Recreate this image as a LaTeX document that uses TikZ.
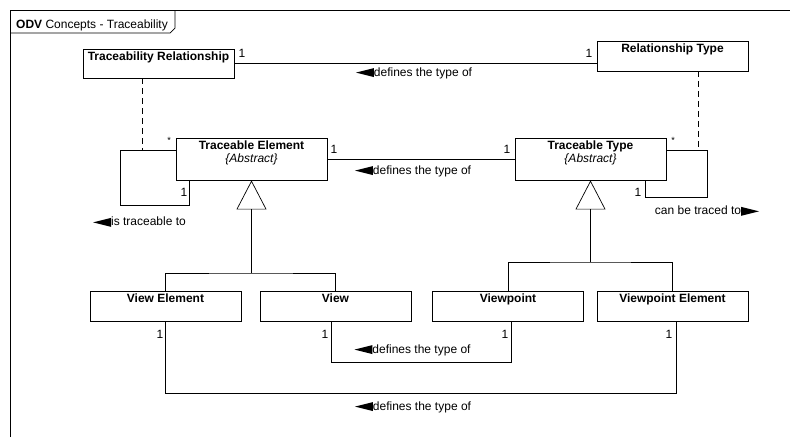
\documentclass[tikz,border=0pt]{standalone}
\usepackage{fontspec}
\setmainfont{Liberation Sans}
\usetikzlibrary{
  positioning,
  arrows.meta
}
% navigability heads of the association names
\newcommand{\ltri}{\tikz[baseline=-3.5pt]\fill (0pt,0pt) -- (18pt,4.5pt) -- (18pt,-4.5pt) -- cycle;}
\newcommand{\rtri}{\tikz[baseline=-3.5pt]\fill (0pt,4.5pt) -- (18pt,0pt) -- (0pt,-4.5pt) -- cycle;}

\begin{document}
\begin{tikzpicture}[
  x=1pt, y=-1pt,
  font=\fontsize{12}{13.5}\selectfont,
  cls/.style={draw, line width=0.9pt, minimum width=151pt, minimum height=30pt, inner sep=0pt},
  ttl/.style={font=\fontsize{12}{13}\selectfont\bfseries, anchor=north, inner sep=3pt, align=center},
  mult/.style={inner sep=0pt},
  assoc/.style={inner sep=0pt},
  link/.style={line width=0.7pt},
  gen/.style={line width=0.7pt, -{Triangle[open, length=29pt, width=30pt]}},
  trace/.style={line width=0.7pt, dash pattern=on 6pt off 4pt}
]
  \useasboundingbox[fill=white] (0,0) rectangle (790,437);

  % Frame
  \draw[link] (10,437) -- (10,10) -- (790,10);
  \draw[link] (10,33) -- (170,33) -- (175,28) -- (175,10);
  \node[anchor=base west, inner sep=0pt] (frametitle) at (16,28) {\textbf{ODV} Concepts - Traceability};

  % Classes
  \node[cls, minimum height=29pt, label={[ttl]north:Traceability Relationship}] (trel) at (158.5,63.5) {};
  \node[cls, label={[ttl]north:Relationship Type}] (rtype) at (672.5,56) {};

  \node[cls, minimum height=42pt,
        label={[ttl]north:Traceable Element\\{\normalfont\itshape\{Abstract\}}}] (te) at (251.5,159) {};
  \node[cls, minimum height=42pt,
        label={[ttl]north:Traceable Type\\{\normalfont\itshape\{Abstract\}}}] (tt) at (590.5,159) {};

  \node[cls, label={[ttl]north:View Element}] (ve) at (165.5,306) {};
  \node[cls, label={[ttl]north:View}] (view) at (335.5,306) {};
  \node[cls, label={[ttl]north:Viewpoint}] (vp) at (508,306) {};
  \node[cls, label={[ttl]north:Viewpoint Element}] (vpe) at (672.5,306) {};

  % Associations
  \draw[link] (trel.east) -- (trel.east -| rtype.west);
  \draw[link] (te) -- (tt);

  % Self associations
  \coordinate (teloop) at (120,205);
  \coordinate (tecorner) at (120,151);
  \draw[link] ([yshift=-13pt]te.north west) -| (teloop) -| ([xshift=14pt]te.south west);
  \coordinate (ttloop) at (707,197);
  \coordinate (ttcorner) at (707,151);
  \draw[link] ([yshift=-13pt]tt.north east) -| (ttloop) -| ([xshift=-21pt]tt.south east);

  % Association classes
  \coordinate (trdash) at ([xshift=-16.5pt]trel.south);
  \coordinate (rtdash) at ([xshift=25.5pt]rtype.south);
  \draw[trace] (trdash) -- (trdash |- tecorner);
  \draw[trace] (rtdash) -- (rtdash |- ttcorner);

  % Generalisations
  \coordinate (gl) at (251.5,273);
  \coordinate (gr) at (590.5,262);
  \draw[link] (ve.north) |- (gl) -| (view.north);
  \draw[gen] (gl) -- (te.south);
  \draw[link] (vp.north) |- (gr) -| (vpe.north);
  \draw[gen] (gr) -- (tt.south);

  % Lower associations
  \draw[link] ([xshift=-4.5pt]view.south) -- ++(0,41) -| ([xshift=3pt]vp.south);
  \draw[link] (ve.south) -- ++(0,72) -| ([xshift=3.5pt]vpe.south);

  % Association names
  \node[assoc] (n1) at (414,73) {\ltri defines the type of};
  \node[assoc] (n2) at (413,171) {\ltri defines the type of};
  \node[assoc] (n3) at (139.5,222) {\ltri is traceable to};
  \node[assoc] (n4) at (707,211) {can be traced to\rtri};
  \node[assoc] (n5) at (412.5,350) {\ltri defines the type of};
  \node[assoc] (n6) at (413,407) {\ltri defines the type of};

  % Multiplicities
  \node[mult] (m1) at (242,53) {1};
  \node[mult] (m2) at (589,53) {1};
  \node[mult] (m3) at (334,149) {1};
  \node[mult] (m4) at (507,149) {1};
  \node[mult, font=\small] (m5) at (169,140) {*};
  \node[mult] (m6) at (184,192) {1};
  \node[mult, font=\small] (m7) at (673,140) {*};
  \node[mult] (m8) at (638,192) {1};
  \node[mult] (m9) at (160,334) {1};
  \node[mult] (m10) at (325,334) {1};
  \node[mult] (m11) at (505,334) {1};
  \node[mult] (m12) at (669,334) {1};
\end{tikzpicture}
\end{document}
